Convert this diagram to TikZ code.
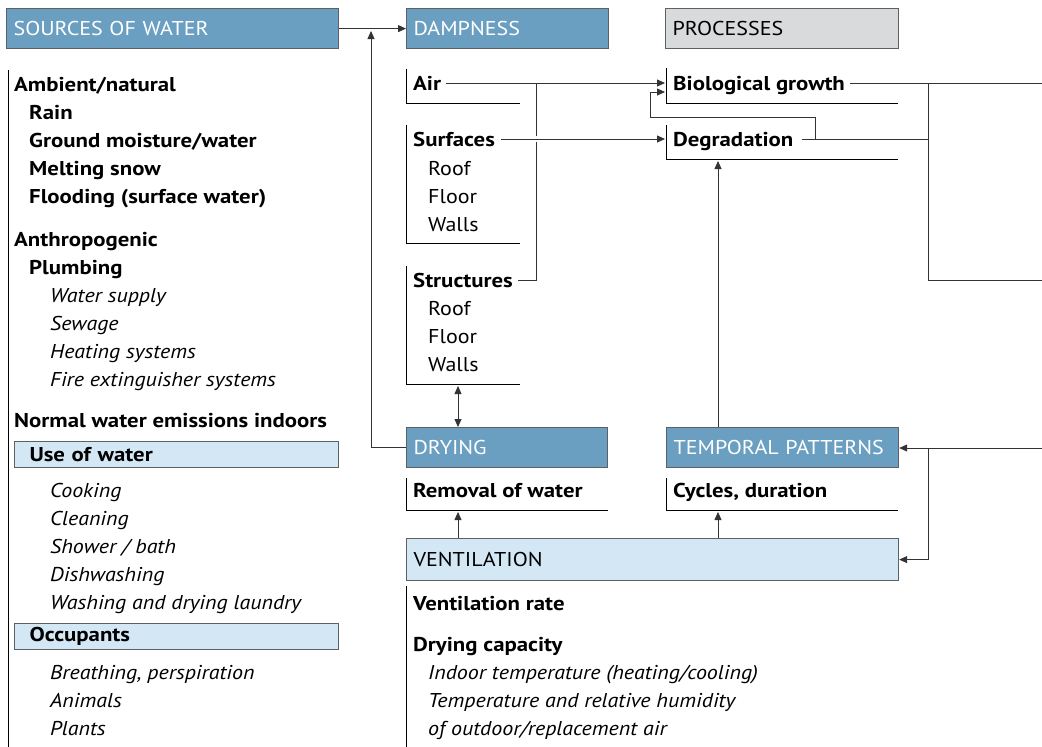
\documentclass[tikz,border=0pt]{standalone}
\usepackage{fontspec}
\setmainfont{PT Sans}[FakeStretch=1.1, BoldFeatures={FakeStretch=1.14}]
\usetikzlibrary{arrows.meta}

\definecolor{headblue}{HTML}{6A9FC1}
\definecolor{paleblue}{HTML}{D3E7F5}
\definecolor{procgray}{HTML}{D9DADB}
\definecolor{edgegray}{HTML}{5C6166}
\definecolor{linegray}{HTML}{333333}

\newcommand{\itemfont}{\fontsize{20}{23}\selectfont}

\tikzset{
  head/.style={draw=edgegray, line width=1.2pt, fill=headblue, text=white,
    anchor=north west, minimum height=40pt, inner xsep=7pt, inner ysep=0pt,
    text width=#1, align=left, font=\itemfont},
  subhead/.style={draw=edgegray, line width=1pt, fill=paleblue,
    anchor=north west, minimum height=26pt, inner xsep=15pt, inner ysep=0pt,
    text width=#1, align=left, font=\itemfont\bfseries},
  entry/.style={anchor=west, inner sep=0pt, text height=14pt, text depth=0pt,
    font=\itemfont},
  bentry/.style={entry, font=\itemfont\bfseries},
  ientry/.style={entry, font=\itemfont\itshape},
  bracket/.style={draw=black, line width=0.8pt},
  conn/.style={draw=linegray, line width=0.8pt},
  arr/.style={conn, -{Triangle[length=8pt,width=7pt]}},
  dblarr/.style={conn, {Triangle[length=8pt,width=7pt]}-{Triangle[length=8pt,width=7pt]}}
}

\begin{document}
\begin{tikzpicture}[x=1pt, y=-1pt]
	\useasboundingbox (0,0) rectangle (1042,747);

	% headings
	\node[head=318pt] (sources) at (6,8) {SOURCES OF WATER};
	\node[head=188pt] (dampness) at (406,8) {DAMPNESS};
	\node[head=219pt, fill=procgray, text=black] (processes) at (665,8) {PROCESSES};
	\node[head=187pt] (drying) at (406,427) {DRYING};
	\node[head=218pt] (temporal) at (666,427) {TEMPORAL PATTERNS};
	\node[head=478pt, fill=paleblue, text=black, minimum height=42pt] (ventil) at (406,538) {VENTILATION};

	% sources of water
	\draw[bracket] (8,70) -- (8,747);
	\node[bentry] (ambient) at (14,84) {Ambient/natural};
	\foreach \t [count=\i] in {Rain, Ground moisture/water, Melting snow, Flooding (surface water)}
		\node[bentry] (amb\i) at (29,84+28*\i) {\t};
	\node[bentry] (anthro) at (14,239) {Anthropogenic};
	\node[bentry] (plumbing) at (29,267) {Plumbing};
	\foreach \t [count=\i] in {Water supply, Sewage, Heating systems, Fire extinguisher systems}
		\node[ientry] (plumb\i) at (50,267+28*\i) {\t};
	\node[bentry] (normal) at (14,420) {Normal water emissions indoors};
	\node[subhead=294pt] (usewater) at (14,441) {Use of water};
	\foreach \t [count=\i] in {Cooking, Cleaning, Shower / bath, Dishwashing, Washing and drying laundry}
		\node[ientry] (use\i) at (50,462+28*\i) {\t};
	\node[subhead=294pt] (occupants) at (14,623) {Occupants};
	\foreach \t [count=\i] in {{Breathing, perspiration}, Animals, Plants}
		\node[ientry] (occ\i) at (50,644+28*\i) {\t};

	% dampness
	\draw[bracket] (406,69) -- (406,103) -- (520,103);
	\draw[bracket] (406,125) -- (406,243) -- (520,243);
	\draw[bracket] (406,266) -- (406,384) -- (520,384);
	\node[bentry] (air) at (413,83) {Air};
	\node[bentry] (surfaces) at (413,139) {Surfaces};
	\node[bentry] (structures) at (413,280) {Structures};
	\foreach \t [count=\i] in {Roof, Floor, Walls}{
		\node[entry] (surf\i) at (428,140+28*\i) {\t};
		\node[entry] (struct\i) at (428,280+28*\i) {\t};
	}

	% processes
	\draw[bracket] (666,68) -- (666,103) -- (898,103);
	\draw[bracket] (666,125) -- (666,159) -- (898,159);
	\node[bentry] (growth) at (673,83) {Biological growth};
	\node[bentry] (degrade) at (673,139) {Degradation};

	% drying, temporal patterns, ventilation
	\draw[bracket] (406,478) -- (406,510) -- (608,510);
	\draw[bracket] (666,478) -- (666,510) -- (898,510);
	\draw[bracket] (406,586) -- (406,747);
	\node[bentry] (removal) at (413,490) {Removal of water};
	\node[bentry] (cycles) at (673,490) {Cycles, duration};
	\node[bentry] (ventrate) at (413,603) {Ventilation rate};
	\node[bentry] (capacity) at (413,644) {Drying capacity};
	\foreach \t [count=\i] in {Indoor temperature (heating/cooling), Temperature and relative humidity, of outdoor/replacement air}
		\node[ientry] (cap\i) at (428,644+28*\i) {\t};

	% connectors
	\coordinate (dryup) at (371,31);
	\coordinate (airjoin) at (536,83);
	\coordinate (loop) at (815,139);
	\coordinate (growthlow) at (665,92);
	\coordinate (bus) at (928,83);
	\coordinate (growthout) at (1042,83);
	\coordinate (busout) at (1042,280);
	\coordinate (tempin) at (1042,448);
	\coordinate (tempjoin) at (928,448);

	\draw[arr] (sources) -- (dampness);
	\draw[arr] (drying.west) -| (dryup);
	\draw[conn, shorten <=5pt] (structures.east) -| (airjoin);
	\draw[arr, shorten <=5pt, shorten >=8pt] (air.east) -- (growth.west);
	\draw[arr, shorten <=6pt, shorten >=8pt, preaction={draw=white, line width=6pt, -}] (surfaces.east) -- (degrade.west);
	\draw[conn, shorten <=8pt] (degrade.east) -- (degrade.east -| bus);
	\draw[arr] (loop) |- (650,117) |- (growthlow);
	\draw[conn, shorten <=5pt] (growth.east) -- (growthout);
	\draw[conn] (bus) |- (busout);
	\draw[dblarr] ([xshift=52pt]drying.north west) -- ++(0,-41);
	\draw[arr] ([xshift=52pt]ventil.north west) -- ++(0,-26);
	\draw[arr] ([xshift=312pt]ventil.north west) -- ++(0,-26);
	\draw[arr] ([xshift=52pt]temporal.north west) -- ++(0,-266);
	\draw[arr] (tempin) -- (temporal.east |- tempin);
	\draw[arr] (tempjoin) |- (ventil.east);

	% redraw bracket hit by the white gap
	\draw[bracket] (666,125) -- (666,159);
\end{tikzpicture}
\end{document}
